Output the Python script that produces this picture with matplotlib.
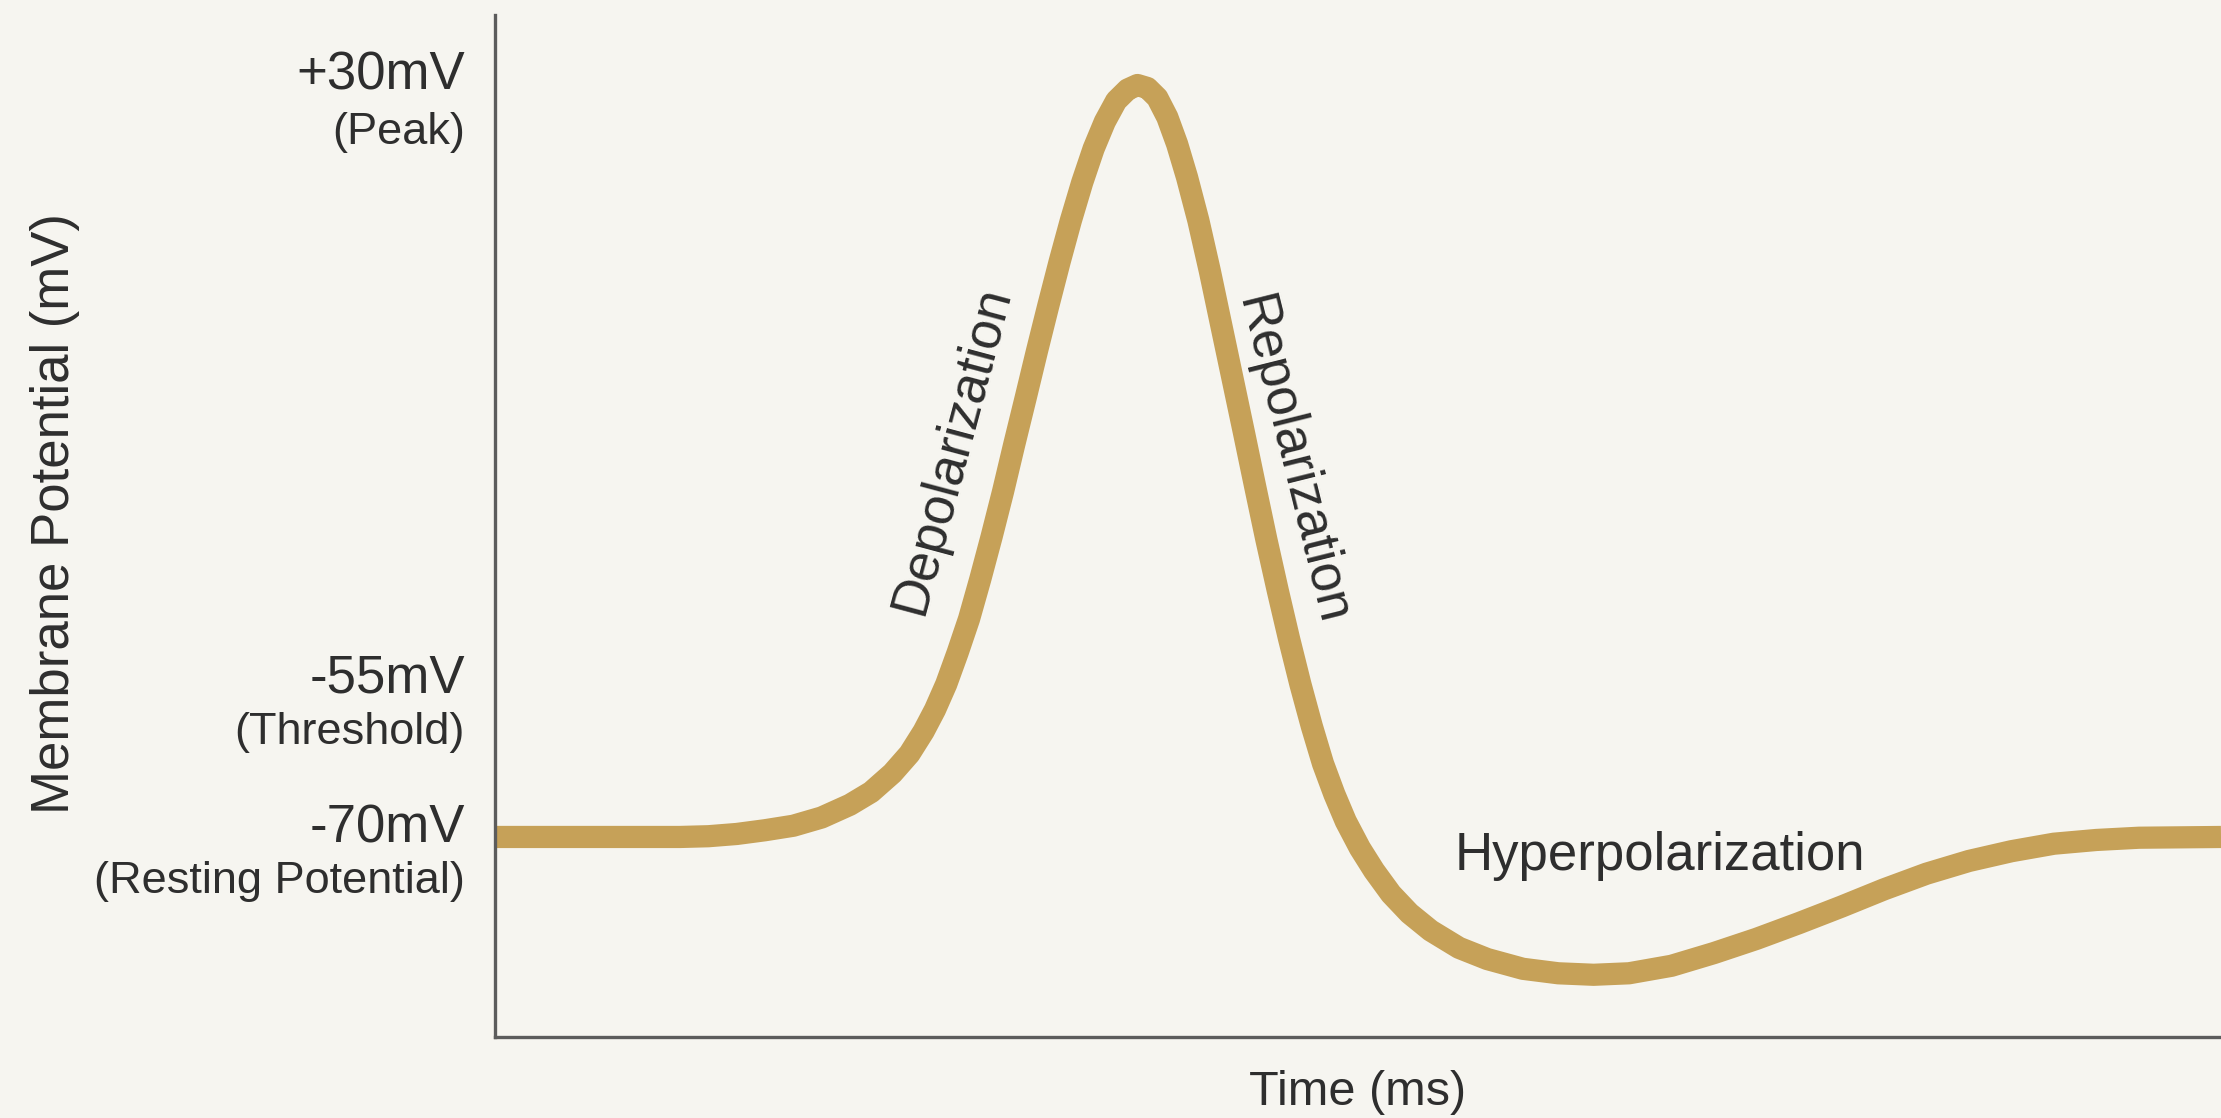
import numpy as np
import matplotlib.pyplot as plt

plt.rcParams['font.family'] = ['Liberation Sans', 'DejaVu Sans']

# action potential trace (time in ms, potential in mV)
time_ms = [0.0, 1.071, 1.236, 1.400, 1.564, 1.728, 1.892, 2.056, 2.179, 2.302,
           2.401, 2.483, 2.549, 2.614, 2.680, 2.746, 2.811, 2.877, 2.943,
           3.008, 3.074, 3.140, 3.205, 3.271, 3.336, 3.402, 3.468, 3.533,
           3.599, 3.665, 3.722, 3.780, 3.837, 3.895, 3.952, 4.009, 4.075,
           4.141, 4.206, 4.272, 4.338, 4.403, 4.469, 4.535, 4.600, 4.666,
           4.732, 4.797, 4.863, 4.929, 5.011, 5.093, 5.191, 5.298, 5.421,
           5.585, 5.749, 5.955, 6.160, 6.365, 6.570, 6.816, 7.062, 7.309,
           7.555, 7.801, 8.047, 8.294, 8.540, 8.786, 9.032, 9.278, 9.525, 10.0]
potential_mv = [-70.0, -70.0, -69.9, -69.6, -69.1, -68.5, -67.4, -65.7, -64.0,
                -61.5, -58.9, -55.9, -53.0, -49.6, -45.4, -40.9, -35.6, -29.9,
                -23.9, -17.6, -11.4, -5.1, 0.9, 6.8, 12.3, 17.4, 21.9, 25.5,
                28.3, 29.8, 30.4, 30.0, 28.7, 26.1, 22.5, 18.1, 12.3, 5.6,
                -1.5, -8.7, -15.9, -23.1, -30.3, -37.1, -43.5, -49.6, -55.2,
                -60.2, -64.3, -67.9, -71.5, -74.5, -77.6, -80.2, -82.5, -84.8,
                -86.3, -87.6, -88.2, -88.4, -88.2, -87.2, -85.5, -83.6, -81.5,
                -79.3, -77.0, -74.9, -73.2, -71.9, -70.9, -70.4, -70.1, -70.0]

level_labels = ["+30mV", "-55mV", "-70mV"]
level_notes = ["(Peak)", "(Threshold)", "(Resting Potential)"]
# where the label pairs sit on the potential scale
label_y = [31.7, -48.8, -68.9]
note_y = [24.1, -56.1, -76.0]

phases = ["Depolarization", "Repolarization", "Hyperpolarization"]
phase_xy = [(2.648, -18.3), (4.618, -19.7), (6.75, -72.6)]
phase_rot = [75, -76, 0]

bg = '#f6f5f0'
curve_col = '#c6a158'
ink = '#2e2e2e'

fig = plt.figure(figsize=(22.21, 11.18), dpi=100, facecolor=bg)
ax = fig.add_axes([0.2229, 0.0725, 0.7771, 0.9141])
ax.set_facecolor(bg)

ax.plot(time_ms, potential_mv, color=curve_col, lw=16,
        solid_capstyle='butt', solid_joinstyle='round')

ax.set_xlim(0, 10)
ax.set_ylim(-96.7, 39.75)
ax.set_xticks([])
ax.set_yticks([])
for s in ['top', 'right']:
    ax.spines[s].set_visible(False)
for s in ['left', 'bottom']:
    ax.spines[s].set_color('#5c5c5c')
    ax.spines[s].set_linewidth(2.4)

trans = ax.get_yaxis_transform()
for lab, note, ly, ny in zip(level_labels, level_notes, label_y, note_y):
    ax.text(-0.0174, ly, lab, transform=trans, ha='right', va='center',
            fontsize=38, color=ink)
    ax.text(-0.0174, ny, note, transform=trans, ha='right', va='center',
            fontsize=32.5, color=ink)

for name, (px, py), rot in zip(phases, phase_xy, phase_rot):
    ax.text(px, py, name, ha='center', va='center', rotation=rot,
            rotation_mode='anchor', fontsize=38, color=ink)

ax.set_xlabel("Time (ms)", fontsize=35, color=ink, labelpad=24)
fig.text(0.0248, 0.541, "Membrane Potential (mV)", rotation=90,
         ha='center', va='center', fontsize=38, color=ink)

fig.savefig("out.png", dpi=100, facecolor=bg)
